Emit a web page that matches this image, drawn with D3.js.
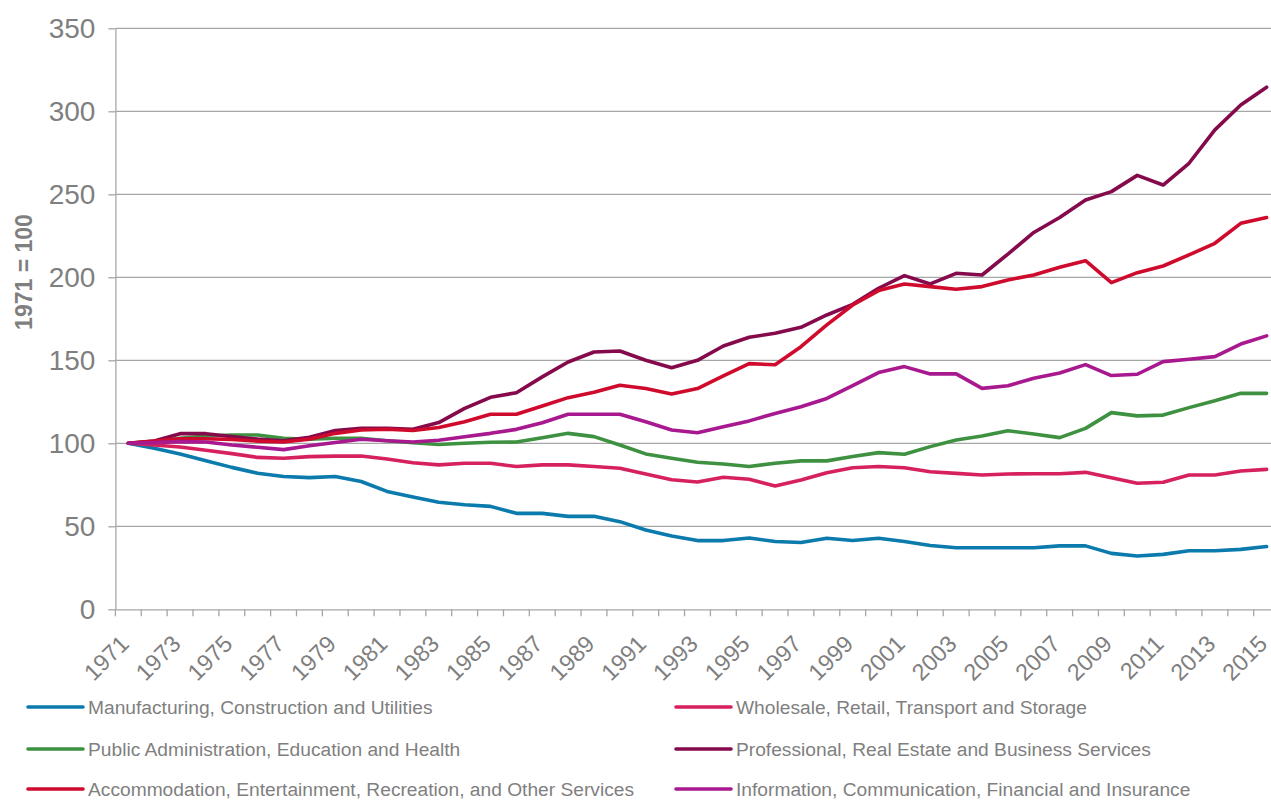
<!DOCTYPE html>
<html><head><meta charset="utf-8">
<script src="https://cdn.jsdelivr.net/npm/d3@7/dist/d3.min.js"></script>
<style>
html,body{margin:0;padding:0;background:#fff;overflow:hidden}
text{font-family:"Liberation Sans",Arial,sans-serif}
</style></head>
<body><svg id="c" width="1271" height="801"></svg>
<script>
const years = d3.range(1971, 2016);
const yTicks = [0, 50, 100, 150, 200, 250, 300, 350];
const seriesNames = [
  "Manufacturing, Construction and Utilities",
  "Wholesale, Retail, Transport and Storage",
  "Public Administration, Education and Health",
  "Professional, Real Estate and Business Services",
  "Accommodation, Entertainment, Recreation, and Other Services",
  "Information, Communication, Financial and Insurance"
];
const seriesColors = ["#0b7aac", "#d6215e", "#3f9142", "#850a4b", "#cf0a2c", "#a8188f"];
const manufacturing = [100,97,93.5,89.5,85.5,82,80,79.3,80,77,71,67.7,64.5,63,62,57.8,57.8,56,56,52.8,47.8,44.2,41.4,41.4,43,40.8,40.2,42.8,41.4,42.8,40.8,38.4,37.1,37.1,37.1,37.1,38.2,38.2,33.7,32.1,33.1,35.3,35.3,36.1,37.8];
const wholesale = [100,99,97.8,95.8,93.8,91.5,91,92,92.3,92.3,90.5,88.3,87,88,88,86,87,87,86,85,81.5,78,76.7,79.5,78.3,74.3,77.9,82.3,85.3,86,85.3,82.9,81.9,80.9,81.5,81.7,81.7,82.5,79.3,75.9,76.5,80.9,80.9,83.3,84.3];
const publicAdmin = [100,101,103,104.4,105,105,103,102.4,103,103,101.5,100.3,99.3,100,100.6,100.8,103.4,106,104,99,93.6,91,88.6,87.5,86,88,89.4,89.4,92,94.4,93.4,98,102,104.4,107.6,105.6,103.4,109,118.5,116.5,117,121.5,125.7,130.1,130.1];
const professional = [100,101.4,105.8,105.8,104,102.5,101.5,103.6,107.7,109,109,108.5,112.5,121,127.7,130.5,140,149,155,155.6,150,145.5,150,158.6,163.9,166.3,169.9,177.3,183.7,193.4,201,196,202.4,201.4,214,227,236,246.6,251.6,261.4,255.6,268.7,288.8,303.8,314.5];
const accommodation = [100,101.4,102.7,102.7,102.3,101.3,100.8,102.5,106,108,108.5,107.7,109.5,113,117.5,117.5,122.5,127.5,130.7,135,133,129.7,133,140.6,148,147.3,158.2,171.3,183.3,192,196,194.4,192.8,194.4,198.4,201.4,206,210,196.8,202.8,206.8,213.5,220.5,232.5,236];
const information = [100,100.4,101,100.8,99,97.6,96.2,98.5,100.5,102.4,101.5,100.8,101.8,104,106,108.4,112.4,117.5,117.5,117.5,113,108,106.4,110,113.5,118,122,127,134.7,142.6,146.2,141.8,141.8,133.1,134.7,139.2,142.4,147.4,140.8,141.6,149.2,150.6,152.2,159.8,164.7];
const seriesValues = [manufacturing, wholesale, publicAdmin, professional, accommodation, information];
const yTitle = "1971 = 100";

const svg = d3.select("#c");
const x0 = 115.4, bw = 25.87;
const x = d3.scaleBand().domain(years).range([x0, x0 + bw * years.length]).paddingInner(0).paddingOuter(0);
const y = d3.scaleLinear().domain([0, 350]).range([609.3, 28.3]);
const grey = "#7f7f7f", gridCol = "#a6a6a6";

// gridlines
svg.append("g").selectAll("line").data(yTicks.filter(d => d > 0)).join("line")
  .attr("x1", x0).attr("x2", x0 + bw * years.length)
  .attr("y1", d => y(d)).attr("y2", d => y(d))
  .attr("stroke", gridCol).attr("stroke-width", 1.3);

// y axis
const ya = svg.append("g").attr("transform", `translate(${x0},0)`)
  .call(d3.axisLeft(y).tickValues(yTicks).tickSize(7).tickSizeOuter(0).tickPadding(13));
ya.select(".domain").attr("stroke", gridCol).attr("stroke-width", 1.3);
ya.selectAll(".tick line").attr("stroke", gridCol).attr("stroke-width", 1.3);
ya.selectAll(".tick text").attr("fill", grey).style("font-size", "28px")
  .style("font-family", '"Liberation Sans",Arial,sans-serif');

// x axis
const xa = svg.append("g").attr("transform", `translate(0,${y(0)})`)
  .call(d3.axisBottom(x).tickSize(0).tickFormat(""));
xa.select(".domain").attr("stroke", gridCol).attr("stroke-width", 1.3);
// tick marks at band boundaries
svg.append("g").selectAll("line").data(d3.range(years.length + 1)).join("line")
  .attr("x1", i => x0 + i * bw).attr("x2", i => x0 + i * bw)
  .attr("y1", y(0)).attr("y2", y(0) + 7)
  .attr("stroke", gridCol).attr("stroke-width", 1.3);
// labels every other year
svg.append("g").selectAll("text").data(years.filter((d, i) => i % 2 === 0)).join("text")
  .attr("transform", d => `translate(${x(d) + x.bandwidth() / 2 + 2},${y(0) + 36}) rotate(-45)`)
  .attr("text-anchor", "end").attr("fill", grey).style("font-size", "23.3px")
  .text(d => d);

// y title
svg.append("text").attr("transform", "translate(32,272) rotate(-90)")
  .attr("text-anchor", "middle").attr("fill", grey)
  .style("font-size", "23px").style("font-weight", "bold").text(yTitle);

// lines
const line = d3.line().x((d, i) => x(years[i]) + x.bandwidth() / 2).y(d => y(d));
svg.append("g").selectAll("path").data(seriesValues).join("path")
  .attr("d", d => line(d)).attr("fill", "none")
  .attr("stroke", (d, i) => seriesColors[i]).attr("stroke-width", 3.6)
  .attr("stroke-linejoin", "round").attr("stroke-linecap", "round");

// legend
const legPos = [[28, 707], [676, 707], [28, 749], [676, 749], [28, 789], [676, 789]];
const lg = svg.append("g").selectAll("g").data(seriesNames).join("g")
  .attr("transform", (d, i) => `translate(${legPos[i][0]},${legPos[i][1]})`);
lg.append("line").attr("x1", 0).attr("x2", 55).attr("y1", 0).attr("y2", 0)
  .attr("stroke", (d, i) => seriesColors[i]).attr("stroke-width", 3.6).attr("stroke-linecap", "round");
lg.append("text").attr("x", 60).attr("y", 0).attr("dy", "0.35em")
  .attr("fill", grey).style("font-size", "19.2px").text(d => d);
</script></body></html>
